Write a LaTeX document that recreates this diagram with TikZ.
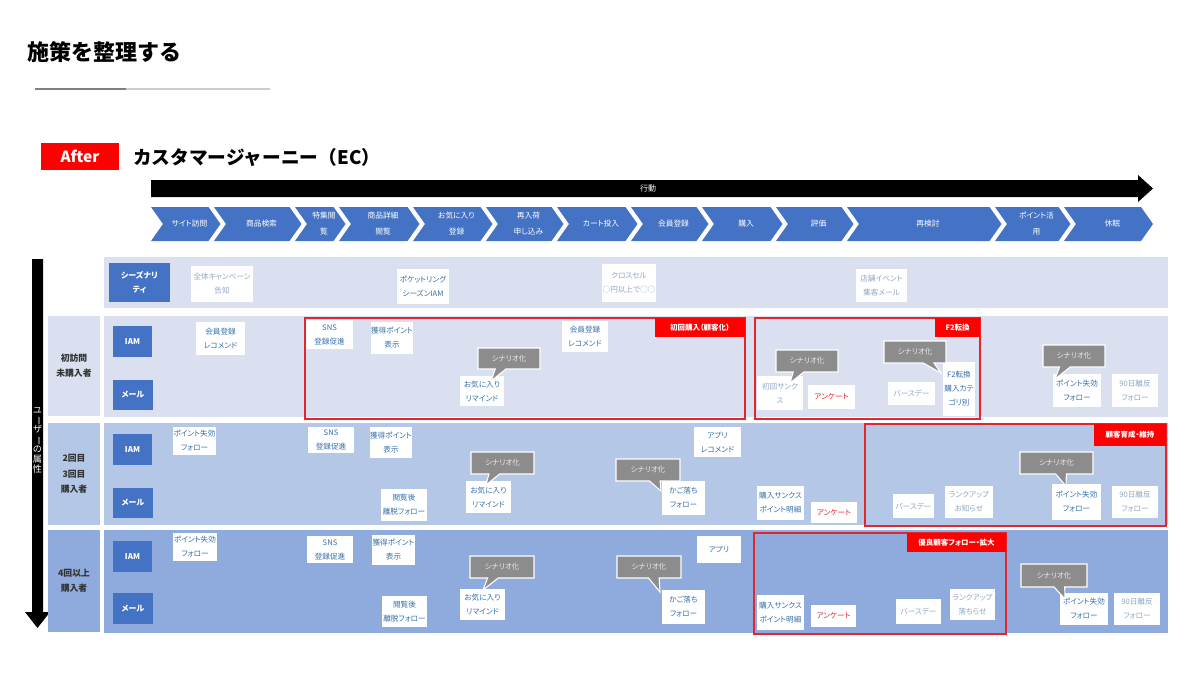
\documentclass[tikz,border=0pt]{standalone}
\usepackage{fontspec}
\setmainfont{Noto Sans CJK JP}[RawFeature=+palt]
\newfontfamily\jpf{Noto Sans CJK JP}
\usetikzlibrary{shapes.callouts}
\definecolor{bm}{HTML}{4472C4}
\definecolor{pa}{HTML}{DAE0EF}
\definecolor{pb}{HTML}{B4C7E7}
\definecolor{pc}{HTML}{8FAADC}
\definecolor{tb}{HTML}{3570AA}
\definecolor{tp}{HTML}{8FA7C4}
\definecolor{rd}{HTML}{E3262B}
\definecolor{rf}{HTML}{FF0000}
\definecolor{cg}{HTML}{8C8C8C}
\newcommand\wbx[7][]{\node[wbox,#1,xyxy={#3}{#4}{#5}{#6}] (#2) {#7};}
\newcommand\scn[6]{\node[call,xyxy={#2}{#3}{#4}{#5},callout absolute pointer={#6}] (#1) {シナリオ化};}
\newcommand\mychev[4]{%
  \fill[bm] ({#2-12},207) -- ({#3-13.5},207) -- ({#3-1.5},224) -- ({#3-13.5},241) -- ({#2-12},241) -- (#2,224) -- cycle;
  \node[chevt] (#1) at ({(#2+#3)/2-3},224) {#4};}
\begin{document}
\begin{tikzpicture}[x=0.75pt,y=-0.75pt,
  xyxy/.style n args={4}{inner sep=0pt,outer sep=0pt,
    minimum width={((#3)-(#1))*0.75pt},minimum height={((#4)-(#2))*0.75pt},
    at={({((#1)+(#3))/2},{((#2)+(#4))/2})}},
  wbox/.style={fill=white,text=tb,align=center,font=\fontsize{5.7}{10.5}\selectfont},
  pale/.style={text=tp},
  redt/.style={text=rd},
  lbl/.style={fill=bm,text=white,align=center,font=\bfseries\fontsize{6}{10}\selectfont},
  frm/.style={draw=rd,line width=1.1pt},
  rlab/.style={fill=rf,text=white,font=\bfseries\fontsize{5.6}{7}\selectfont},
  call/.style={rectangle callout,fill=cg,draw=white,line width=0.8pt,text=white!92!black,
    font=\fontsize{5.6}{7}\selectfont,callout pointer width=8pt},
  rowl/.style={align=center,text=black!80,font=\bfseries\fontsize{6.6}{11.5}\selectfont},
  chevt/.style={text=white,align=center,font=\fontsize{5.8}{12}\selectfont}]
\useasboundingbox (0,0) rectangle (1200,700);
\fill[white] (0,0) rectangle (1200,700);
% header
\node[anchor=west,inner sep=0pt,font=\jpf\bfseries\fontsize{16.5}{18}\selectfont] (title) at (27,52) {施策を整理する};
\draw[line width=2.2pt,black!50] (35,89) -- (126,89);
\draw[line width=2.2pt,black!20] (126,89) -- (270,89);
\node[fill=rf,text=white,font=\bfseries\fontsize{11.5}{12}\selectfont,xyxy={41}{143}{119}{170}] (after) {After};
\node[anchor=west,inner sep=0pt,font=\jpf\bfseries\fontsize{14}{16}\selectfont] (cj) at (133,157) {カスタマージャーニー（EC）};
% action arrow
\fill[black] (151,180) -- (1138,180) -- (1138,175) -- (1153,188.5) -- (1138,202) -- (1138,197) -- (151,197) -- cycle;
\node[text=white,font=\fontsize{6}{7}\selectfont] (act) at (648,188.5) {行動};
% chevrons
\mychev{h1}{163}{222}{サイト訪問}
\mychev{h2}{226}{303}{商品検索}
\mychev{h3}{307}{347}{特集閲\\覧}
\mychev{h4}{351}{421}{商品詳細\\閲覧}
\mychev{h5}{425}{494}{お気に入り\\登録}
\mychev{h6}{498}{565}{再入荷\\申し込み}
\mychev{h7}{569}{639}{カート投入}
\mychev{h8}{643}{710}{会員登録}
\mychev{h9}{714}{784}{購入}
\mychev{h10}{788}{855}{評価}
\mychev{h11}{859}{1003}{再検討}
\mychev{h12}{1007}{1072}{ポイント活\\用}
\mychev{h13}{1076}{1154.5}{休眠}
% vertical arrow
\fill[black] (32,259) -- (43,259) -- (43,612) -- (50,612) -- (37.5,628) -- (25,612) -- (32,612) -- cycle;
\node[text=white,align=center,inner sep=0pt,font=\fontsize{6.8}{7.4}\selectfont] (attr) at (37.5,440)
  {ユ\\\rotatebox[origin=c]{-90}{ー}\\ザ\\\rotatebox[origin=c]{-90}{ー}\\の\\属\\性};
% panels
\node[fill=pa,xyxy={104}{257}{1168}{308}] (row0) {};
\node[fill=pa,xyxy={48}{316}{100}{416},rowl] (u1) {初訪問\\未購入者};
\node[fill=pa,xyxy={104}{316}{1168}{417}] (row1) {};
\node[fill=pb,xyxy={48}{423}{100}{525},rowl] (u2) {2回目\\3回目\\購入者};
\node[fill=pb,xyxy={104}{423}{1168}{525}] (row2) {};
\node[fill=pc,xyxy={48}{530}{100}{632},rowl] (u3) {4回以上\\購入者};
\node[fill=pc,xyxy={104}{530}{1168}{633}] (row3) {};
% frames
\node[frm,xyxy={305}{318}{745}{419}] (fr1) {};
\node[frm,xyxy={755}{318}{980}{419}] (fr2) {};
\node[frm,xyxy={865}{424}{1166}{526}] (fr3) {};
\node[frm,xyxy={754}{533}{1006}{634}] (fr4) {};
% row 0
\node[lbl,xyxy={109}{263}{170}{302}] (sea) {シーズナリ\\ティ};
\wbx[pale]{s1}{191}{266}{253}{302}{全体キャンペーン\\告知}
\wbx{s2}{397}{269}{449}{304}{ポケットリング\\シーズンIAM}
\wbx[pale]{s3}{602}{264}{656}{302}{クロスセル\\○円以上で○○}
\wbx[pale]{s4}{856}{269}{907}{302}{店舗イベント\\集客メール}
% row 1
\node[lbl,xyxy={113}{326}{152}{357}] (iam1) {IAM};
\node[lbl,xyxy={113}{380}{153}{410}] (mail1) {メール};
\wbx{a1}{196}{322}{245}{355}{会員登録\\レコメンド}
\wbx{a2}{306}{320}{353}{349}{SNS\\登録促進}
\wbx{a3}{371}{322}{413}{354}{獲得ポイント\\表示}
\wbx{a4}{460}{376}{504}{406}{お気に入り\\リマインド}
\wbx{a5}{562}{321}{608}{352}{会員登録\\レコメンド}
\wbx[pale]{a6}{757}{376}{803}{410}{初回サンク\\ス}
\wbx[redt]{a7}{808}{385}{855}{409}{アンケート}
\wbx[pale]{a8}{888}{382}{935}{405}{バースデー}
\wbx{a9}{943}{362}{975}{416}{F2転換\\購入カテ\\ゴリ別}
\wbx{a10}{1053}{374}{1101}{407}{ポイント失効\\フォロー}
\wbx[pale]{a11}{1112}{374}{1158}{407}{90日離反\\フォロー}
\scn{c1}{478}{348}{540}{369}{(491,381)}
\scn{c2}{776}{350}{838}{372}{(790,383)}
\scn{c3}{884}{341}{946}{363}{(941,373)}
\scn{c4}{1043}{345}{1105}{367}{(1055,379)}
\node[rlab,xyxy={655}{318}{745}{337}] (l1) {初回購入（顧客化）};
\node[rlab,xyxy={935}{318}{980}{337}] (l2) {F2転換};
% row 2
\node[lbl,xyxy={113}{434}{152}{465}] (iam2) {IAM};
\node[lbl,xyxy={113}{488}{153}{518}] (mail2) {メール};
\wbx{b1}{173}{427}{216}{455}{ポイント失効\\フォロー}
\wbx{b2}{308}{427}{354}{453}{SNS\\登録促進}
\wbx{b3}{370}{427}{412}{458}{獲得ポイント\\表示}
\wbx{b4}{466}{481}{511}{513}{お気に入り\\リマインド}
\wbx{b5}{381}{489}{427}{521}{閲覧後\\離脱フォロー}
\wbx{b6}{694}{427}{741}{457}{アプリ\\レコメンド}
\wbx{b7}{662}{481}{705}{515}{かご落ち\\フォロー}
\wbx{b8}{757}{486}{804}{520}{購入サンクス\\ポイント明細}
\wbx[redt]{b9}{811}{502}{857}{523}{アンケート}
\wbx[pale]{b10}{893}{494}{934}{518}{バースデー}
\wbx[pale]{b11}{945}{486}{993}{518}{ランクアップ\\お知らせ}
\wbx{b12}{1052}{484}{1101}{520}{ポイント失効\\フォロー}
\wbx[pale]{b13}{1112}{486}{1158}{518}{90日離反\\フォロー}
\scn{c5}{471}{452}{534}{474}{(486,485)}
\scn{c6}{616}{459}{680}{481}{(661,491)}
\scn{c7}{1020}{452}{1093}{474}{(1066,486)}
\node[rlab,xyxy={1094}{424}{1166}{446}] (l3) {顧客育成・維持};
% row 3
\node[lbl,xyxy={113}{541}{152}{572}] (iam3) {IAM};
\node[lbl,xyxy={113}{593}{153}{624}] (mail3) {メール};
\wbx{d1}{173}{533}{217}{561}{ポイント失効\\フォロー}
\wbx{d2}{307}{536}{353}{563}{SNS\\登録促進}
\wbx{d3}{372}{535}{415}{565}{獲得ポイント\\表示}
\wbx{d4}{460}{589}{505}{620}{お気に入り\\リマインド}
\wbx{d5}{382}{596}{427}{627}{閲覧後\\離脱フォロー}
\wbx{d6}{697}{536}{741}{563}{アプリ}
\wbx{d7}{662}{590}{705}{624}{かご落ち\\フォロー}
\wbx{d8}{757}{595}{804}{630}{購入サンクス\\ポイント明細}
\wbx[redt]{d9}{811}{605}{856}{627}{アンケート}
\wbx[pale]{d10}{896}{599}{941}{624}{バースデー}
\wbx[pale]{d11}{950}{589}{995}{620}{ランクアップ\\落ちらせ}
\wbx{d12}{1060}{593}{1108}{625}{ポイント失効\\フォロー}
\wbx[pale]{d13}{1114}{593}{1160}{625}{90日離反\\フォロー}
\scn{c8}{470}{556}{534}{578}{(483,590)}
\scn{c9}{617}{556}{681}{578}{(660,592)}
\scn{c10}{1021}{564}{1087}{587}{(1065,599)}
\node[rlab,xyxy={907}{533}{1006}{552}] (l4) {優良顧客フォロー・拡大};
\end{tikzpicture}
\end{document}
